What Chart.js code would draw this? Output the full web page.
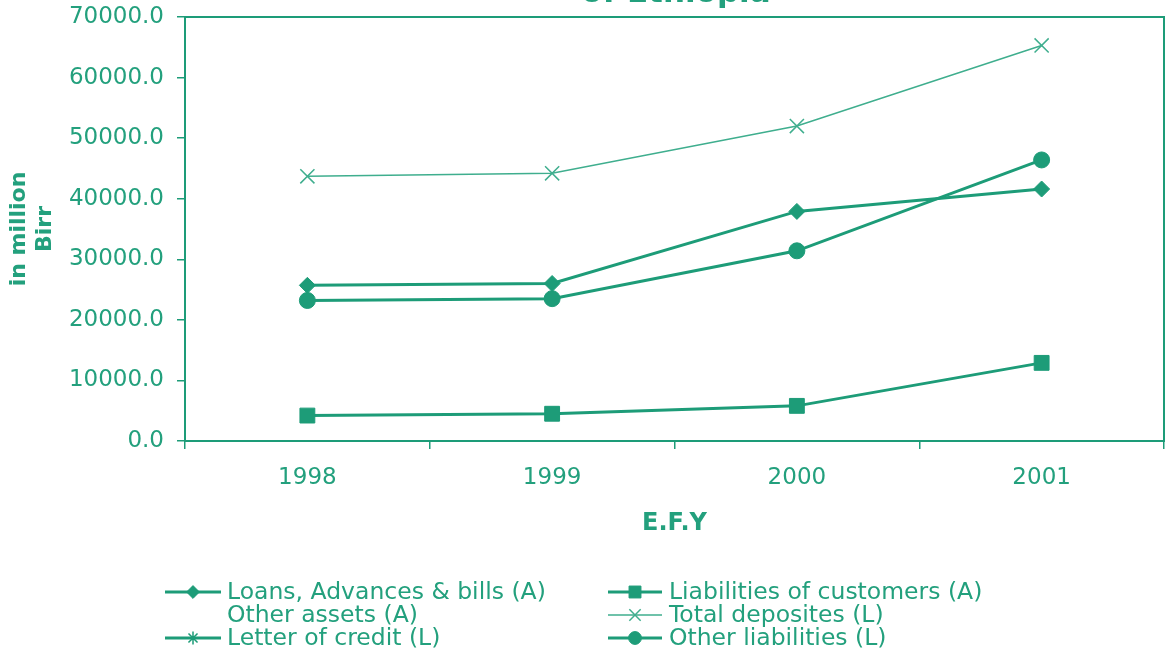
<!DOCTYPE html>
<html>
<head>
<meta charset="utf-8">
<script src="https://cdn.jsdelivr.net/npm/chart.js@4/dist/chart.umd.min.js"></script>
<style>
  html, body { margin: 0; padding: 0; background: #fff; }
  #wrap { width: 1168px; height: 659px; }
</style>
</head>
<body>
<div id="wrap"><canvas id="bankChart" width="1168" height="659"></canvas></div>
<script>
// data (million Birr)
const years = ['1998', '1999', '2000', '2001'];
const loans = [25700, 26000, 37900, 41600];
const liabCustomers = [4200, 4500, 5800, 12900];
const otherAssets = [null, null, null, null];
const totalDeposits = [43700, 44200, 52000, 65300];
const letterOfCredit = [null, null, null, null];
const otherLiabilities = [23200, 23500, 31400, 46400];
const yTicks = [0, 10000, 20000, 30000, 40000, 50000, 60000, 70000];

const teal = '#1d9c78';
const lightTeal = '#3fae8e';
const textTeal = '#23a07d';
const font = "'DejaVu Sans', 'Liberation Sans', Arial, sans-serif";

// border round the plot area
const frame = {
    id: 'frame',
    beforeDatasetsDraw(chart) {
        const a = chart.chartArea;
        const ctx = chart.ctx;
        ctx.save();
        ctx.strokeStyle = teal;
        ctx.lineWidth = 2;
        ctx.strokeRect(a.left, a.top, a.right - a.left, a.bottom - a.top);
        ctx.restore();
    }
};

// cut off title line at the very top
const topTitle = {
    id: 'topTitle',
    afterDraw(chart) {
        const ctx = chart.ctx;
        ctx.save();
        ctx.fillStyle = textTeal;
        ctx.font = 'bold 31px ' + font;
        ctx.textAlign = 'center';
        ctx.textBaseline = 'alphabetic';
        ctx.fillText('of Ethiopia', 676, 2);
        ctx.restore();
    }
};

// two column legend like the spreadsheet one
const twoColLegend = {
    id: 'twoColLegend',
    afterDraw(chart) {
        const ctx = chart.ctx;
        const cols = [{ x: 165, w: 56, text: 227 }, { x: 608, w: 54, text: 669 }];
        const rows = [592, 615, 638];
        ctx.save();
        ctx.font = '23.5px ' + font;
        ctx.textBaseline = 'middle';
        ctx.textAlign = 'left';
        chart.data.datasets.forEach((ds, i) => {
            const c = cols[i % 2];
            const y = rows[Math.floor(i / 2)];
            if (ds.showLine !== false) {
                ctx.strokeStyle = ds.borderColor;
                ctx.lineWidth = ds.borderWidth;
                ctx.beginPath();
                ctx.moveTo(c.x, y);
                ctx.lineTo(c.x + c.w, y);
                ctx.stroke();
            }
            if (ds.pointStyle && ds.pointRadius > 0) {
                ctx.fillStyle = ds.pointBackgroundColor;
                ctx.strokeStyle = ds.pointBorderColor;
                ctx.lineWidth = ds.pointBorderWidth;
                Chart.helpers.drawPoint(ctx, {
                    pointStyle: ds.pointStyle,
                    radius: ds.pointRadius * 0.8,
                    borderWidth: ds.pointBorderWidth,
                    rotation: 0
                }, c.x + c.w / 2, y);
            }
            ctx.fillStyle = textTeal;
            ctx.fillText(ds.label, c.text, y + 1);
        });
        ctx.restore();
    }
};

function series(label, data, style, radius, width, color) {
    return {
        label: label,
        data: data,
        borderColor: color,
        borderWidth: width,
        pointStyle: style,
        pointRadius: radius,
        pointHoverRadius: radius,
        pointBackgroundColor: color,
        pointBorderColor: color,
        pointBorderWidth: style === 'crossRot' || style === 'star' ? 1.5 : 1,
        tension: 0,
        fill: false
    };
}

const otherAssetsSet = series('Other assets (A)', otherAssets, false, 0, 0, teal);
otherAssetsSet.showLine = false;

new Chart(document.getElementById('bankChart').getContext('2d'), {
    type: 'line',
    data: {
        labels: years,
        datasets: [
            series('Loans, Advances & bills (A)', loans, 'rectRot', 8, 3, teal),
            series('Liabilities of customers (A)', liabCustomers, 'rect', 10.5, 3, teal),
            otherAssetsSet,
            series('Total deposites (L)', totalDeposits, 'crossRot', 10, 1.5, lightTeal),
            series('Letter of credit (L)', letterOfCredit, 'star', 8, 3, teal),
            series('Other liabilities (L)', otherLiabilities, 'circle', 8, 3, teal)
        ]
    },
    options: {
        responsive: false,
        animation: false,
        layout: { autoPadding: false, padding: { top: 17, right: 4, bottom: 121, left: 0 } },
        plugins: {
            legend: { display: false },
            tooltip: { enabled: false },
            title: { display: false }
        },
        scales: {
            x: {
                offset: true,
                grid: {
                    display: true,
                    offset: true,
                    drawOnChartArea: false,
                    drawTicks: true,
                    tickLength: 8,
                    color: teal,
                    lineWidth: 1.5
                },
                border: { display: true, color: teal, width: 2 },
                ticks: { color: textTeal, font: { family: font, size: 23 }, padding: 15 },
                title: {
                    display: true,
                    text: 'E.F.Y',
                    color: textTeal,
                    font: { family: font, size: 24, weight: 'bold' },
                    padding: 0
                },
                afterFit(scale) {
                    scale.height = 97;
                    scale.paddingLeft = 0;
                    scale.paddingRight = 0;
                }
            },
            y: {
                min: 0,
                max: 70000,
                afterBuildTicks(scale) { scale.ticks = yTicks.map(v => ({ value: v })); },
                grid: {
                    display: true,
                    drawOnChartArea: false,
                    drawTicks: true,
                    tickLength: 8,
                    color: teal,
                    lineWidth: 1.5
                },
                border: { display: true, color: teal, width: 2 },
                ticks: {
                    color: textTeal,
                    font: { family: font, size: 23 },
                    padding: 13,
                    callback: v => Number(v).toFixed(1)
                },
                title: {
                    display: true,
                    text: ['in million', 'Birr'],
                    color: textTeal,
                    font: { family: font, size: 22, weight: 'bold' },
                    padding: { top: 6, bottom: 0 }
                },
                afterFit(scale) {
                    scale.width = 185;
                    scale.paddingTop = 0;
                    scale.paddingBottom = 0;
                }
            }
        }
    },
    plugins: [frame, topTitle, twoColLegend]
});
</script>
</body>
</html>
